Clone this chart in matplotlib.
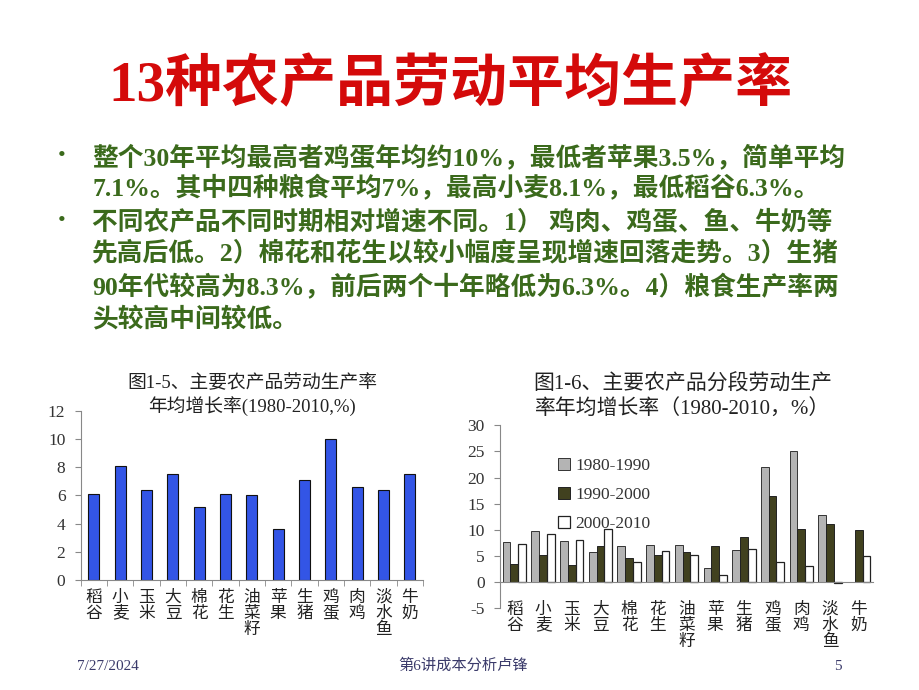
import numpy as np
import matplotlib
matplotlib.use("Agg")
import matplotlib.pyplot as plt

plt.rcParams['font.family'] = ['Liberation Serif', 'Noto Sans CJK SC', 'DejaVu Sans']

categories = ["稻谷", "小麦", "玉米", "大豆", "棉花", "花生", "油菜籽",
              "苹果", "生猪", "鸡蛋", "肉鸡", "淡水鱼", "牛奶"]
avg_growth = [6.1, 8.1, 6.4, 7.5, 5.2, 6.1, 6.0, 3.6, 7.1, 10.0, 6.6, 6.4, 7.5]

series_names = ["1980-1990", "1990-2000", "2000-2010"]
g_1980_1990 = [7.7, 9.8, 7.9, 5.7, 6.9, 7.2, 7.2, 2.7, 6.2, 22.1, 25.0, 12.8, np.nan]
g_1990_2000 = [3.5, 5.2, 3.2, 6.9, 4.7, 5.2, 5.7, 6.9, 8.7, 16.5, 10.1, 11.1, 9.9]
g_2000_2010 = [7.3, 9.2, 8.1, 10.1, 3.8, 5.9, 5.2, 1.3, 6.4, 3.8, 3.0, -0.2, 5.0]

left_yticks = [0, 2, 4, 6, 8, 10, 12]
right_yticks = [-5, 0, 5, 10, 15, 20, 25, 30]

title_text = "13种农产品劳动平均生产率"
bullet1 = ["整个30年平均最高者鸡蛋年均约10%，最低者苹果3.5%，简单平均",
           "7.1%。其中四种粮食平均7%，最高小麦8.1%，最低稻谷6.3%。"]
bullet2 = ["不同农产品不同时期相对增速不同。1） 鸡肉、鸡蛋、鱼、牛奶等",
           "先高后低。2）棉花和花生以较小幅度呈现增速回落走势。3）生猪",
           "90年代较高为8.3%，前后两个十年略低为6.3%。4）粮食生产率两",
           "头较高中间较低。"]

W, H = 920, 690
fig = plt.figure(figsize=(W / 100, H / 100), dpi=100)
fig.patch.set_facecolor("white")

def fx(x):
    return x / W

def fy(y):
    return 1 - y / H

# Title
fig.text(fx(450), fy(86), title_text, color="#d40a0a", fontsize=41,
         fontweight="bold", ha="center", va="center")

green = "#3b6a1c"
lines_y1 = [157, 188]
lines_y2 = [222, 254, 287, 320]
fig.text(fx(62), fy(157), "•", color=green, fontsize=16, ha="center", va="center")
fig.text(fx(62), fy(222), "•", color=green, fontsize=16, ha="center", va="center")
for t, y in zip(bullet1, lines_y1):
    fig.text(fx(92), fy(y), t, color=green, fontsize=18.5, fontweight="bold",
             ha="left", va="center")
for t, y in zip(bullet2, lines_y2):
    fig.text(fx(92), fy(y), t, color=green, fontsize=18.5, fontweight="bold",
             ha="left", va="center")

# Footer
footer_c = "#3a3a6a"
fig.text(fx(108), fy(666), "7/27/2024", color=footer_c, fontsize=11, ha="center", va="center")
fig.text(fx(463), fy(666), "第6讲成本分析卢锋", color=footer_c, fontsize=11, ha="center", va="center")
fig.text(fx(838), fy(666), "5", color=footer_c, fontsize=11, ha="center", va="center")

x = np.arange(len(categories))
vlabels = ["\n".join(c) for c in categories]
axis_grey = "#888888"

# Left chart
ax1 = fig.add_axes([fx(80.7), fy(580), fx(423) - fx(80.7), fy(410.7) - fy(580)])
ax1.bar(x, avg_growth, width=0.42, color="#3355e6", edgecolor="#111111", linewidth=0.8)
ax1.set_xlim(-0.5, len(categories) - 0.5)
ax1.set_ylim(0, 12)
ax1.set_yticks(left_yticks)
ax1.set_yticklabels([str(v) for v in left_yticks], fontsize=12.5, color="#333333")
ax1.set_xticks(x)
ax1.set_xticklabels(vlabels, fontsize=12, linespacing=1.0, va="top", color="#222222")
ax1.tick_params(axis="x", length=0, pad=7)
ax1.set_xticks(np.arange(-0.5, len(categories), 1), minor=True)
ax1.tick_params(axis="x", which="minor", length=4, color=axis_grey)
ax1.tick_params(axis="y", length=4, color=axis_grey, pad=7)
for s in ["top", "right"]:
    ax1.spines[s].set_visible(False)
for s in ["left", "bottom"]:
    ax1.spines[s].set_color(axis_grey)
    ax1.spines[s].set_linewidth(0.8)
fig.text(fx(252), fy(383), "图1-5、主要农产品劳动生产率", fontsize=13.5, ha="center", va="center", color="#222222")
fig.text(fx(252), fy(406), "年均增长率(1980-2010,%)", fontsize=13.5, ha="center", va="center", color="#222222")

# Right chart
ax2 = fig.add_axes([fx(500), fy(608.3), fx(873) - fx(500), fy(425.3) - fy(608.3)])
w = 0.27
ax2.bar(x - w, g_1980_1990, width=w, color="#b4b4b4", edgecolor="#333333", linewidth=0.7, label=series_names[0])
ax2.bar(x, g_1990_2000, width=w, color="#41411f", edgecolor="#222222", linewidth=0.7, label=series_names[1])
ax2.bar(x + w, g_2000_2010, width=w, color="white", edgecolor="#222222", linewidth=0.9, label=series_names[2])
ax2.set_xlim(-0.5, len(categories) - 0.5)
ax2.set_ylim(-5, 30)
ax2.set_yticks(right_yticks)
ax2.set_yticklabels([str(v) for v in right_yticks], fontsize=12.5, color="#333333")
ax2.spines["bottom"].set_position(("data", 0))
ax2.set_xticks(x)
ax2.set_xticklabels(vlabels, fontsize=12, linespacing=1.0, va="top", color="#222222")
ax2.tick_params(axis="x", length=0, pad=14)
ax2.tick_params(axis="y", length=4, color=axis_grey, pad=7)
for s in ["top", "right"]:
    ax2.spines[s].set_visible(False)
for s in ["left", "bottom"]:
    ax2.spines[s].set_color(axis_grey)
    ax2.spines[s].set_linewidth(0.8)
leg = ax2.legend(loc="upper left", bbox_to_anchor=(fx(551), fy(451)),
                 bbox_transform=fig.transFigure, frameon=False, fontsize=12.5,
                 handlelength=0.7, handleheight=0.7, handletextpad=0.3,
                 labelspacing=0.75, borderaxespad=0)
for t in leg.get_texts():
    t.set_color("#333333")
fig.text(fx(683), fy(384), "图1-6、主要农产品分段劳动生产", fontsize=15, ha="center", va="center", color="#222222")
fig.text(fx(683), fy(409), "率年均增长率（1980-2010，%）", fontsize=15, ha="center", va="center", color="#222222")

fig.savefig("out.png", dpi=100, facecolor="white")
